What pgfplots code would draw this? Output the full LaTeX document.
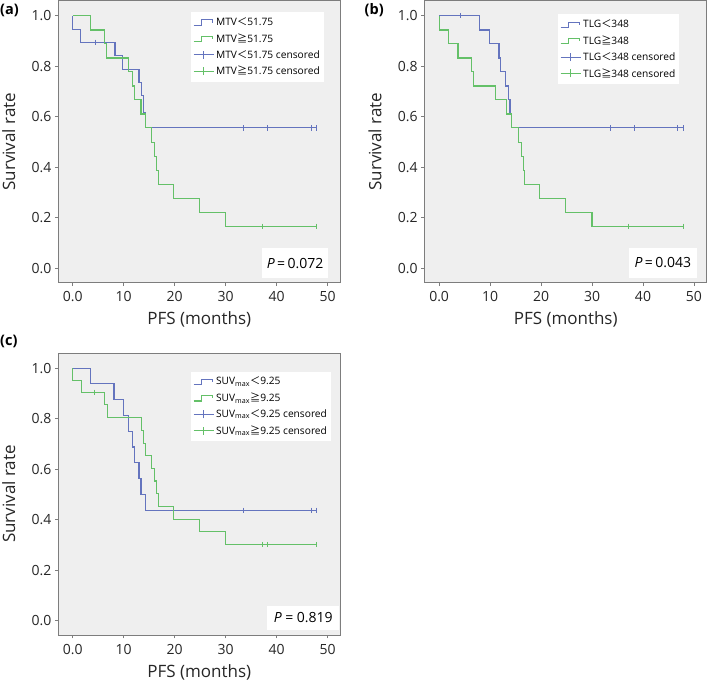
\documentclass[border=0pt]{standalone}
\usepackage{fontspec}
\setmainfont{Open Sans}
\newfontfamily\cjk{Noto Sans CJK SC}
\usepackage{pgfplots}
\pgfplotsset{compat=1.18}
\definecolor{kmblue}{RGB}{100,116,190}
\definecolor{kmgreen}{RGB}{100,192,104}
\definecolor{bggray}{RGB}{239,239,239}
\definecolor{framegray}{RGB}{125,125,125}
\pgfplotsset{
 kmaxis/.style={
  scale only axis, width=282pt, height=282pt,
  xmin=-2.83, xmax=52.5, ymin=-0.057, ymax=1.06,
  axis background/.style={fill=bggray},
  axis line style={draw=framegray, line width=0.8pt},
  tick align=outside, tick pos=left, major tick length=3.5pt,
  every tick/.style={draw=framegray, line width=0.8pt},
  xtick={0,10,20,30,40,50}, xticklabels={0.0,10,20,30,40,50},
  ytick={0,0.2,0.4,0.6,0.8,1}, yticklabels={0.0,0.2,0.4,0.6,0.8,1.0},
  tick label style={font=\fontsize{14}{16}\selectfont, text=black!85},
  xticklabel style={yshift=-2pt},
  xlabel={PFS (months)}, ylabel={Survival rate},
  every axis x label/.style={at={(rel axis cs:0.5,0)}, anchor=base, yshift=-42.3pt, font=\fontsize{17}{20}\selectfont, text=black!85},
  every axis y label/.style={at={(rel axis cs:0,0.5)}, xshift=-43.3pt, rotate=90, anchor=base, font=\fontsize{17}{20}\selectfont, text=black!85},
  legend style={draw=none, fill=white, anchor=north west, font=\fontsize{10.2}{12}\selectfont, inner xsep=2pt, inner ysep=3.5pt, row sep=2.6pt},
  legend cell align=left,
 },
 blueline/.style={color=kmblue, line width=1.1pt, const plot, mark=none,
   legend image code/.code={\draw[draw=kmblue, line width=1.1pt] (0pt,-3pt) -- (8pt,-3pt) -- (8pt,2.5pt) -- (19pt,2.5pt) -- (19pt,-0.5pt);}},
 greenline/.style={color=kmgreen, line width=1.1pt, const plot, mark=none,
   legend image code/.code={\draw[draw=kmgreen, line width=1.1pt] (0pt,-3pt) -- (8pt,-3pt) -- (8pt,2.5pt) -- (19pt,2.5pt) -- (19pt,-0.5pt);}},
 bluecens/.style={color=kmblue, only marks, mark=|, mark size=2.6pt, mark options={line width=1pt, draw=kmblue},
   legend image code/.code={\draw[draw=kmblue, line width=1.1pt] (0pt,0pt) -- (20pt,0pt); \draw[draw=kmblue, line width=1.1pt] (10pt,-4pt) -- (10pt,4pt);}},
 greencens/.style={color=kmgreen, only marks, mark=|, mark size=2.6pt, mark options={line width=1pt, draw=kmgreen},
   legend image code/.code={\draw[draw=kmgreen, line width=1.1pt] (0pt,0pt) -- (20pt,0pt); \draw[draw=kmgreen, line width=1.1pt] (10pt,-4pt) -- (10pt,4pt);}},
}
\begin{document}
\begin{tikzpicture}
\path[use as bounding box] (0pt,0pt) rectangle (709pt,682pt);
% ---------- (a)
\begin{axis}[kmaxis, at={(58.3pt,399.3pt)}, anchor=south west, legend style={at={(0.47,0.96)}}]
\addplot[blueline] coordinates {(0,1)(0,0.947)(1.6,0.895)(8.3,0.842)(9.7,0.789)(13.0,0.737)(13.55,0.684)(13.9,0.615)(14.2,0.556)(48,0.556)};
\addlegendentry{MTV{\cjk ＜}51.75}
\addplot[greenline] coordinates {(0,1)(3.5,0.944)(6.3,0.889)(6.7,0.833)(10.9,0.778)(11.8,0.722)(12.1,0.667)(13.4,0.611)(14.2,0.556)(15.4,0.5)(16.0,0.444)(16.5,0.389)(16.8,0.333)(19.7,0.278)(24.8,0.222)(30.0,0.167)(48,0.167)};
\addlegendentry{MTV{\cjk ≧}51.75}
\addplot[bluecens] coordinates {(4.4,0.895)(33.5,0.556)(38.2,0.556)(46.8,0.556)(47.9,0.556)};
\addlegendentry{MTV{\cjk ＜}51.75 censored}
\addplot[greencens] coordinates {(37.2,0.167)(47.9,0.167)};
\addlegendentry{MTV{\cjk ≧}51.75 censored}
\node[fill=white, anchor=south east, minimum width=66.6pt, minimum height=30pt, inner sep=0pt, font=\fontsize{14}{16}\selectfont, xshift=-11.7pt, yshift=4.4pt] at (rel axis cs:1,0) {\textit{P}\,=\,0.072};
\end{axis}
% ---------- (b)
\begin{axis}[kmaxis, at={(424.7pt,399.3pt)}, anchor=south west, legend style={at={(0.472,0.952)}}]
\addplot[blueline] coordinates {(0,1)(8.0,0.944)(9.8,0.889)(11.75,0.833)(12.1,0.778)(13.1,0.722)(13.6,0.667)(13.9,0.611)(14.2,0.556)(48,0.556)};
\addlegendentry{TLG{\cjk ＜}348}
\addplot[greenline] coordinates {(0,1)(0,0.944)(1.8,0.889)(3.7,0.833)(6.3,0.778)(6.7,0.722)(11.0,0.667)(13.3,0.611)(14.2,0.556)(15.6,0.5)(16.2,0.444)(16.6,0.389)(16.8,0.333)(19.7,0.278)(24.8,0.222)(30.0,0.167)(48,0.167)};
\addlegendentry{TLG{\cjk ≧}348}
\addplot[bluecens] coordinates {(4.2,1.0)(33.6,0.556)(38.3,0.556)(46.8,0.556)(48.0,0.556)};
\addlegendentry{TLG{\cjk ＜}348 censored}
\addplot[greencens] coordinates {(37.2,0.167)(48.0,0.167)};
\addlegendentry{TLG{\cjk ≧}348 censored}
\node[fill=white, anchor=south east, minimum width=67.3pt, minimum height=30pt, inner sep=0pt, font=\fontsize{14}{16}\selectfont, xshift=-10pt, yshift=4.6pt] at (rel axis cs:1,0) {\textit{P}\,=\,0.043};
\end{axis}
% ---------- (c)
\begin{axis}[kmaxis, at={(58.3pt,47pt)}, anchor=south west, legend style={at={(0.47,0.935)}}]
\addplot[blueline] coordinates {(0,1)(3.5,0.9375)(8.1,0.875)(9.9,0.8125)(10.9,0.75)(11.7,0.6875)(12.2,0.625)(13.0,0.5625)(13.4,0.5)(14.3,0.4375)(48,0.4375)};
\addlegendentry{SUV\textsubscript{max}{\cjk ＜}9.25}
\addplot[greenline] coordinates {(0,1)(0,0.952)(1.8,0.905)(6.2,0.855)(6.8,0.804)(13.5,0.754)(13.9,0.703)(14.3,0.653)(15.5,0.603)(16.0,0.553)(16.5,0.503)(16.8,0.452)(19.7,0.402)(24.8,0.352)(30.0,0.302)(48,0.302)};
\addlegendentry{SUV\textsubscript{max}{\cjk ≧}9.25}
\addplot[bluecens] coordinates {(33.5,0.4375)(46.8,0.4375)(47.9,0.4375)};
\addlegendentry{SUV\textsubscript{max}{\cjk ＜}9.25 censored}
\addplot[greencens] coordinates {(4.2,0.905)(37.2,0.302)(38.2,0.302)(47.9,0.302)};
\addlegendentry{SUV\textsubscript{max}{\cjk ≧}9.25 censored}
\node[fill=white, anchor=south east, minimum width=71.7pt, minimum height=24pt, inner sep=0pt, font=\fontsize{14}{16}\selectfont, xshift=-1pt, yshift=5pt] at (rel axis cs:1,0) {\textit{P} = 0.819};
\end{axis}
% panel labels
\node[anchor=base west, inner sep=0pt, font=\fontsize{14.5}{17}\selectfont\bfseries] at (0pt,667pt) {(a)};
\node[anchor=base west, inner sep=0pt, font=\fontsize{14.5}{17}\selectfont\bfseries] at (364.5pt,667pt) {(b)};
\node[anchor=base west, inner sep=0pt, font=\fontsize{14.5}{17}\selectfont\bfseries] at (0pt,336pt) {(c)};
\end{tikzpicture}
\end{document}
